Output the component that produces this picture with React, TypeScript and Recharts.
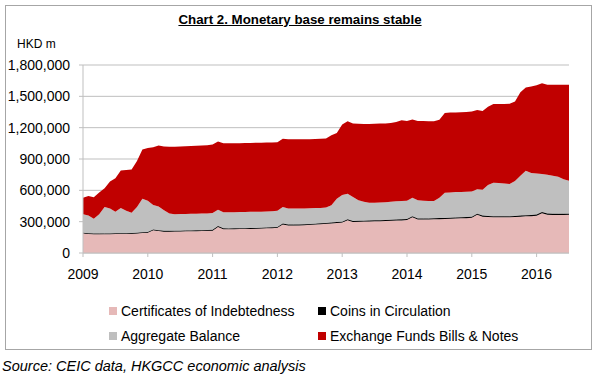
import { AreaChart, Area, XAxis, YAxis, CartesianGrid } from 'recharts'

// monthly, Jan 2009 .. Jul 2016, HKD m
const CERTIFICATES = [
  188100, 181100, 179000, 179000, 180000, 180000, 181000, 182000, 182900, 183900, 186800, 190800,
  194700, 217500, 210600, 204600, 204600, 205600, 206500, 207500, 208500, 209400, 210400, 212300,
  214200, 250000, 228100, 227100, 228100, 229000, 230000, 230900, 231900, 233800, 235800, 237700,
  241600, 273300, 263500, 263500, 264400, 266400, 269300, 272300, 275200, 279200, 283100, 287000,
  290900, 312600, 297800, 298800, 300700, 301700, 303600, 304600, 306500, 308500, 310400, 312300,
  316200, 341900, 320100, 320100, 321000, 322000, 323900, 325900, 327800, 329800, 331700, 333600,
  337500, 365200, 347400, 344400, 342300, 341300, 341200, 342200, 344100, 347100, 351000, 352900,
  356800, 381500, 365700, 364700, 363600, 364600, 365500,
]

const COINS = [
  6900, 6900, 6950, 6950, 7000, 7000, 7050, 7050, 7100, 7100, 7150, 7200,
  7300, 7500, 7350, 7350, 7400, 7400, 7450, 7450, 7500, 7550, 7600, 7700,
  7800, 8000, 7850, 7900, 7900, 7950, 8000, 8050, 8100, 8150, 8200, 8300,
  8400, 8700, 8500, 8500, 8550, 8600, 8650, 8700, 8750, 8800, 8850, 8950,
  9100, 9400, 9200, 9200, 9250, 9300, 9350, 9400, 9450, 9500, 9550, 9650,
  9800, 10100, 9900, 9900, 9950, 10000, 10050, 10100, 10150, 10200, 10250, 10350,
  10500, 10800, 10600, 10600, 10650, 10700, 10750, 10800, 10850, 10900, 10950, 11050,
  11200, 11500, 11300, 11300, 11350, 11400, 11450,
]

const AGGREGATE = [
  177000, 172000, 142000, 184000, 253000, 238000, 207000, 241000, 215000, 194000, 246000, 322000,
  298000, 235000, 227000, 198000, 166000, 159000, 159000, 159000, 159000, 159000, 159000, 158000,
  160000, 157000, 154000, 155000, 155000, 155000, 155000, 155000, 155000, 154000, 154000, 154000,
  155000, 158000, 153000, 153000, 152000, 152000, 150000, 149000, 148000, 147000, 165000, 224000,
  255000, 246000, 230000, 197000, 180000, 171000, 167000, 169000, 170000, 172000, 175000, 175000,
  174000, 176000, 175000, 170000, 168000, 167000, 196000, 240000, 242000, 243000, 243000, 243000,
  242000, 234000, 247000, 295000, 319000, 318000, 313000, 307000, 335000, 382000, 425000, 401000,
  392000, 364000, 373000, 364000, 355000, 329000, 315000,
]

const EXCHANGE_FUND = [
  158000, 185000, 207000, 210000, 180000, 260000, 320000, 360000, 390000, 415000, 440000, 470000,
  505000, 552000, 585000, 610000, 639000, 646000, 647000, 648000, 650000, 652000, 653000, 654000,
  656000, 653000, 660000, 660000, 660000, 660000, 660000, 660000, 660000, 660000, 659000, 658000,
  655000, 655000, 663000, 663000, 663000, 661000, 662000, 662000, 663000, 662000, 671000, 630000,
  675000, 694000, 704000, 733000, 745000, 753000, 757000, 756000, 755000, 755000, 760000, 773000,
  765000, 750000, 758000, 763000, 763000, 763000, 745000, 764000, 765000, 762000, 762000, 763000,
  765000, 760000, 755000, 750000, 754000, 756000, 761000, 768000, 760000, 800000, 798000, 830000,
  845000, 868000, 862000, 872000, 881000, 907000, 920000,
]

const YEAR_TICKS = [0, 12, 24, 36, 48, 60, 72, 84]
const YEAR_LABELS = ['2009', '2010', '2011', '2012', '2013', '2014', '2015', '2016']
const VALUE_TICKS = [0, 300000, 600000, 900000, 1200000, 1500000, 1800000]

const SERIES = [
  { key: 'ci', name: 'Certificates of Indebtedness', color: '#e6b9b8' },
  { key: 'coins', name: 'Coins in Circulation', color: '#000000' },
  { key: 'ab', name: 'Aggregate Balance', color: '#bfbfbf' },
  { key: 'efbn', name: 'Exchange Funds Bills & Notes', color: '#c00000' },
]

const FONT = '"Liberation Sans", Arial, sans-serif'

const data = CERTIFICATES.map((ci, i) => ({
  m: i,
  ci,
  coins: COINS[i],
  ab: AGGREGATE[i],
  efbn: EXCHANGE_FUND[i],
}))

export default function App() {
  const tick = { fill: '#000', fontSize: 14, fontFamily: FONT }
  // legend order in the picture: two columns, two rows
  const legendRows = [
    [SERIES[0], SERIES[1]],
    [SERIES[2], SERIES[3]],
  ]

  return (
    <div style={{ position: 'absolute', left: 0, top: 0, width: 600, height: 381, background: '#fff', fontFamily: FONT }}>
      <div style={{ position: 'absolute', left: 5, top: 5, width: 587, height: 345, border: '1px solid #a6a6a6', boxSizing: 'border-box' }} />
      <AreaChart
        width={600}
        height={381}
        data={data}
        margin={{ top: 65, right: 31, left: 0, bottom: 98 }}
        style={{ position: 'absolute', left: 0, top: 0 }}
      >
        <CartesianGrid vertical={false} stroke="#bfbfbf" />
        <XAxis
          dataKey="m"
          type="number"
          domain={[0, 90]}
          ticks={YEAR_TICKS}
          tickFormatter={(v) => YEAR_LABELS[YEAR_TICKS.indexOf(v)]}
          height={30}
          tickSize={4}
          tickMargin={12}
          stroke="#bfbfbf"
          tick={tick}
          interval={0}
        />
        <YAxis
          domain={[0, 1800000]}
          ticks={VALUE_TICKS}
          tickFormatter={(v) => v.toLocaleString('en-US')}
          width={83}
          tickSize={4}
          tickMargin={9}
          stroke="#bfbfbf"
          tick={tick}
          interval={0}
        />
        <Area dataKey="ci" stackId="1" type="linear" fill="#e6b9b8" fillOpacity={1} stroke="none" isAnimationActive={false} />
        <Area dataKey="coins" stackId="1" type="linear" fill="#000" fillOpacity={1} stroke="#000" strokeWidth={0.8} isAnimationActive={false} />
        <Area dataKey="ab" stackId="1" type="linear" fill="#bfbfbf" fillOpacity={1} stroke="none" isAnimationActive={false} />
        <Area dataKey="efbn" stackId="1" type="linear" fill="#c00000" fillOpacity={1} stroke="none" isAnimationActive={false} />
      </AreaChart>

      <div style={{ position: 'absolute', left: 0, top: 12, width: 600, textAlign: 'center', fontSize: 13.3, lineHeight: '16px', fontWeight: 'bold', textDecoration: 'underline', color: '#000' }}>
        Chart 2. Monetary base remains stable
      </div>
      <div style={{ position: 'absolute', left: 17, top: 36, fontSize: 12, lineHeight: '16px', color: '#000' }}>HKD m</div>

      {legendRows.map((row, r) => (
        <div key={r}>
          {row.map((s, c) => (
            <div
              key={s.key}
              style={{ position: 'absolute', left: c === 0 ? 109 : 318, top: r === 0 ? 303 : 328, height: 16, display: 'flex', alignItems: 'center', fontSize: 14, color: '#000', whiteSpace: 'nowrap' }}
            >
              <span style={{ display: 'inline-block', width: 8, height: 8, background: s.color, marginRight: 4 }} />
              {s.name}
            </div>
          ))}
        </div>
      ))}

      <div style={{ position: 'absolute', left: 2, top: 357, fontSize: 14.5, lineHeight: '18px', fontStyle: 'italic', color: '#000', whiteSpace: 'nowrap' }}>
        Source: CEIC data, HKGCC economic analysis
      </div>
    </div>
  )
}
